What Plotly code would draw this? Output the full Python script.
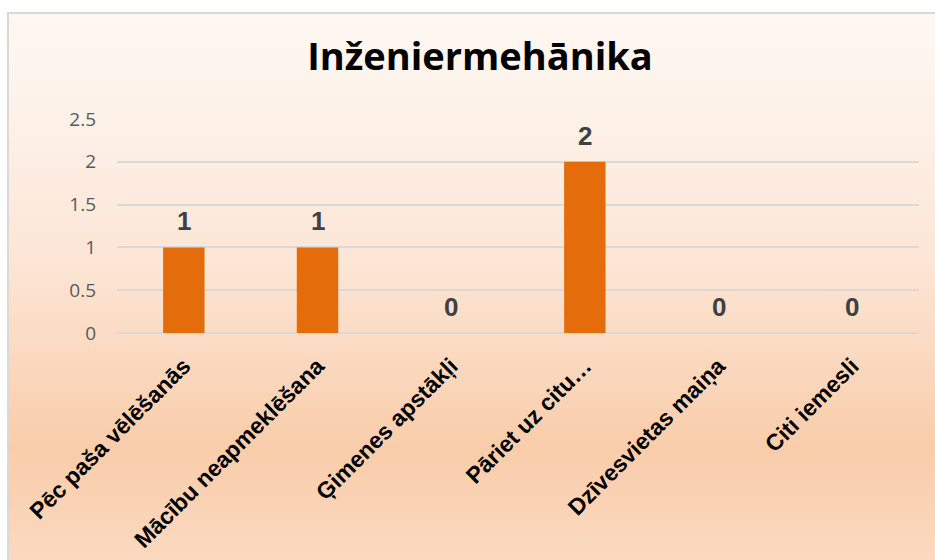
import plotly.graph_objects as go

W, H = 935, 560

title_text = "Inženiermehānika"
categories = ["Pēc paša vēlēšanās", "Mācību neapmeklēšana", "Ģimenes apstākļi",
              "Pāriet uz citu…", "Dzīvesvietas maiņa", "Citi iemesli"]
values = [1, 1, 0, 2, 0, 0]
y_ticks = [0, 0.5, 1, 1.5, 2, 2.5]
y_tick_labels = ["0", "0.5", "1", "1.5", "2", "2.5"]

# plot area in pixels
px_left, px_right = 117, 919
px_top, px_bottom = 119, 333


def hexrgb(h):
    h = h.lstrip("#")
    return tuple(int(h[i:i + 2], 16) for i in (0, 2, 4))


grad_stops = [(13, "#FEF8F2"), (120, "#FDF1E8"), (260, "#FCE6D6"),
              (450, "#F9CDAA"), (560, "#FBD9BF")]


def color_at(y):
    for (y0, c0), (y1, c1) in zip(grad_stops[:-1], grad_stops[1:]):
        if y <= y1:
            t = max(0.0, min(1.0, (y - y0) / (y1 - y0)))
            a, b = hexrgb(c0), hexrgb(c1)
            return "rgb(%d,%d,%d)" % tuple(round(a[i] + (b[i] - a[i]) * t) for i in range(3))
    return grad_stops[-1][1]


shapes = []
band = 4
for y in range(13, H + band, band):
    shapes.append(dict(type="rect", xref="paper", yref="paper",
                       x0=8 / W, x1=1.02, y0=1 - (y + band + 1) / H, y1=1 - y / H,
                       fillcolor=color_at(y + band / 2), line=dict(width=0), layer="below"))
shapes.append(dict(type="rect", xref="paper", yref="paper",
                   x0=8 / W, x1=1.05, y0=-0.05, y1=1 - 13 / H,
                   fillcolor="rgba(0,0,0,0)", line=dict(color="#D9D9D9", width=2), layer="below"))

fig = go.Figure()
fig.add_trace(go.Bar(
    x=categories, y=values,
    marker=dict(color="#E46C0A", line=dict(width=0)),
    hoverinfo="skip",
))

annotations = []
for c, v in zip(categories, values):
    annotations.append(dict(x=c, y=v, xref="x", yref="y", text=str(v), showarrow=False,
                            yanchor="bottom", yshift=9,
                            font=dict(family="Liberation Sans", size=26, color="#404040", weight="bold")))

fig.update_layout(
    width=W, height=H,
    margin=dict(l=0, r=0, t=0, b=0),
    paper_bgcolor="white",
    plot_bgcolor="#FDE9DB",
    showlegend=False,
    bargap=0.69,
    shapes=shapes,
    annotations=annotations,
    title=dict(text=title_text, x=480 / W, xref="paper", xanchor="center",
               y=1 - 57 / H, yref="paper", yanchor="middle",
               font=dict(family="Open Sans", size=38, color="#000000", weight="bold")),
    xaxis=dict(domain=[px_left / W, px_right / W], tickangle=-45,
               tickfont=dict(family="Liberation Sans", size=23, color="#000000", weight="bold"),
               showgrid=False, showline=False, ticks="", ticklabelstandoff=14,
               automargin=False),
    yaxis=dict(domain=[1 - px_bottom / H, 1 - px_top / H], range=[0, 2.5],
               tickvals=y_ticks, ticktext=y_tick_labels,
               tickfont=dict(family="Open Sans", size=19, color="#595959"),
               showgrid=True, gridcolor="#D9D9D9", gridwidth=1.5,
               zeroline=True, zerolinecolor="#D9D9D9", zerolinewidth=1.5,
               showline=False, ticks="", ticklabelstandoff=20, automargin=False),
)

fig.write_html("out.html", config={"displayModeBar": False},
               post_script="document.body.style.margin='0';document.body.style.padding='0';")
